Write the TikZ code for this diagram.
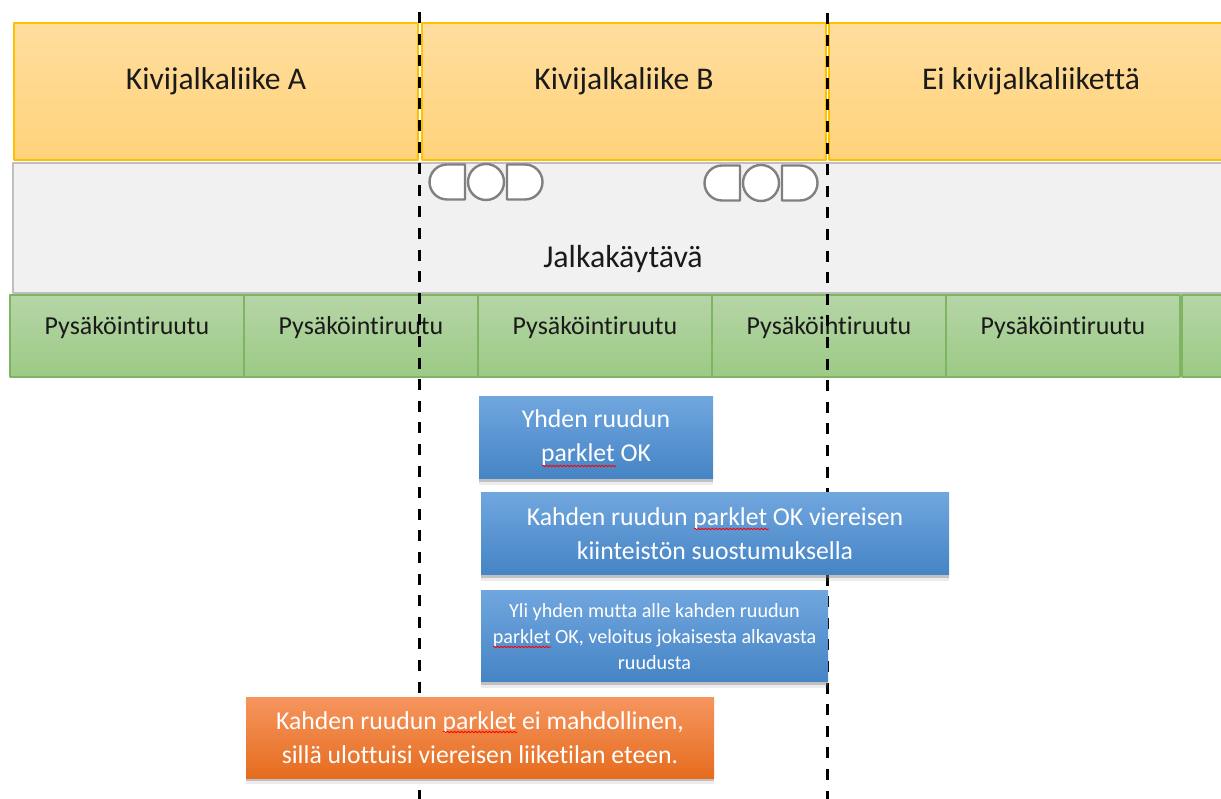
\documentclass[tikz,border=0pt]{standalone}
\usepackage{fontspec}
\setmainfont[Ligatures=CommonOff]{Carlito}
\usetikzlibrary{shadows,decorations.pathmorphing}
\definecolor{ink}{HTML}{1A1A1A}
\definecolor{shopedge}{HTML}{FFC000}
\definecolor{shoptop}{HTML}{FFDD9E}
\definecolor{shopbot}{HTML}{FFD37A}
\definecolor{walkedge}{HTML}{BFBFBF}
\definecolor{walkfill}{HTML}{F1F1F1}
\definecolor{spotedge}{HTML}{7FB562}
\definecolor{spottop}{HTML}{B5D5A6}
\definecolor{spotbot}{HTML}{9CCA85}
\definecolor{infotop}{HTML}{70A6DE}
\definecolor{infomid}{HTML}{5297D8}
\definecolor{infobot}{HTML}{4584C5}
\definecolor{warntop}{HTML}{F5955E}
\definecolor{warnmid}{HTML}{F07F38}
\definecolor{warnbot}{HTML}{E66C1E}

\tikzset{
  shopbox/.style={draw=shopedge,line width=1.5bp,top color=shoptop,bottom color=shopbot,
    minimum width=404bp,minimum height=137bp,inner sep=0pt,text=ink,font=\fontsize{31.7}{36}\selectfont,text height=67bp,text depth=70bp},
  spotbox/.style={draw=spotedge,line width=1.5bp,top color=spottop,bottom color=spotbot,
    minimum width=234bp,minimum height=82bp,inner sep=0pt,text=ink,font=\fontsize{26}{30}\selectfont,text height=40bp,text depth=42bp},
  softshadow/.style={drop shadow={shadow xshift=0bp,shadow yshift=-6bp,opacity=.15},drop shadow={shadow xshift=0bp,shadow yshift=-3bp,opacity=.4}},
  infobox/.style={softshadow,top color=infotop,middle color=infomid,bottom color=infobot,text=white,inner sep=0pt,align=center,
    font=\fontsize{25.8}{34}\selectfont},
  walkerpart/.style={draw=gray,line width=2.4bp,fill=white},
  spellmark/.style={draw=red,line width=.8bp,decorate,decoration={snake,amplitude=.8bp,segment length=3.5bp}},
  cutline/.style={line width=3bp,black,dash pattern=on 11bp off 10.6bp},
}

\begin{document}
\begin{tikzpicture}[line join=bevel,]
%%
\clip (0bp,0bp) rectangle (1221bp,799bp);
\node (shopa) at (216bp,707.5bp) [shopbox] {Kivijalkaliike A};
  \node (shopb) at (624bp,707.5bp) [shopbox] {Kivijalkaliike B};
  \node (shopc) at (1031bp,707.5bp) [shopbox] {Ei kivijalkaliikettä};
  \node (walkway) at (623bp,571bp) [draw=walkedge,line width=1.5bp,fill=walkfill,minimum width=1220bp,minimum height=130bp,inner sep=0pt,text=ink,
    font=\fontsize{32}{36}\selectfont,text height=105bp,text depth=25bp] {Jalkakäytävä};
%
  \node (walkera) at (486bp,617bp) [walkerpart,circle,minimum size=36bp,inner sep=0pt] {};
  \node (walkerb) at (761bp,616bp) [walkerpart,circle,minimum size=36bp,inner sep=0pt] {};
  \draw [walkerpart] (465bp,634.5bp) -- (447bp,634.5bp) arc (90:270:17.5bp) -- (465bp,599.5bp) -- cycle;
  \draw [walkerpart] (507bp,634.5bp) -- (525bp,634.5bp) arc (90:-90:17.5bp) -- (507bp,599.5bp) -- cycle;
  \draw [walkerpart] (740bp,633.5bp) -- (722bp,633.5bp) arc (90:270:17.5bp) -- (740bp,598.5bp) -- cycle;
  \draw [walkerpart] (782bp,633.5bp) -- (800bp,633.5bp) arc (90:-90:17.5bp) -- (782bp,598.5bp) -- cycle;
%
  \node (spot1) at (127bp,463bp) [spotbox] {Pysäköintiruutu};
  \node (spot2) at (361bp,463bp) [spotbox] {Pysäköintiruutu};
  \node (spot3) at (595bp,463bp) [spotbox] {Pysäköintiruutu};
  \node (spot4) at (829bp,463bp) [spotbox] {Pysäköintiruutu};
  \node (spot5) at (1063bp,463bp) [spotbox] {Pysäköintiruutu};
  \node (spot6) at (1299bp,463bp) [spotbox] {};
%
  \coordinate (cutatop) at (419bp,787bp);
  \coordinate (cutabot) at (419bp,0bp);
  \coordinate (cutbtop) at (827bp,786bp);
  \coordinate (cutbbot) at (827bp,0bp);
  \draw [cutline] (cutatop) -- (cutabot);
  \draw [cutline] (cutbtop) -- (cutbbot);
%
  \node (oneok) at (596bp,361bp) [infobox,minimum width=234bp,minimum height=82bp] {Yhden ruudun\\parklet OK};
  \node (twook) at (715bp,265bp) [infobox,minimum width=468bp,minimum height=82bp] {Kahden ruudun parklet OK viereisen\\kiinteistön suostumuksella};
  \node (partok) at (654.5bp,162.5bp) [infobox,minimum width=347bp,minimum height=91bp,font=\fontsize{20.2}{26}\selectfont] {Yli yhden mutta alle kahden ruudun\\parklet OK, veloitus jokaisesta alkavasta\\ruudusta};
  \node (notok) at (480bp,61bp) [infobox,top color=warntop,middle color=warnmid,bottom color=warnbot,minimum width=468bp,minimum height=81bp] {Kahden ruudun parklet ei mahdollinen,\\sillä ulottuisi viereisen liiketilan eteen.};
%
  \draw [spellmark] (542bp,333bp) -- (616bp,333bp);
  \draw [spellmark] (694bp,270bp) -- (769bp,270bp);
  \draw [spellmark] (493bp,152bp) -- (551bp,152bp);
  \draw [spellmark] (443bp,67bp) -- (517bp,67bp);
%
\end{tikzpicture}
\end{document}
